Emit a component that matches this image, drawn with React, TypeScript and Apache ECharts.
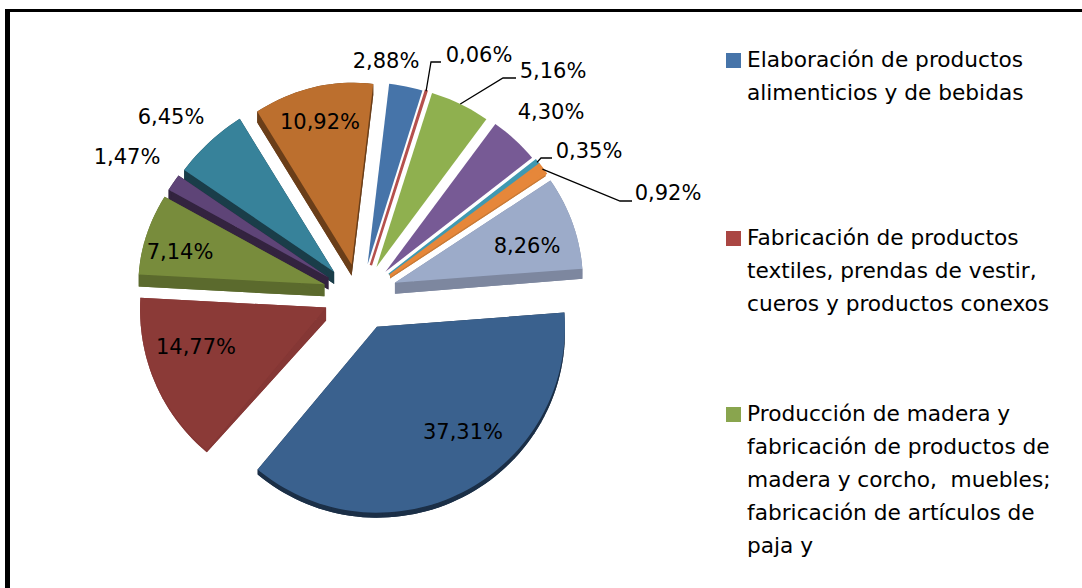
import React, { useEffect, useRef } from "react";
import * as echarts from "echarts";

const categories = [
  "Elaboración de productos\nalimenticios y de bebidas",
  "Fabricación de productos\ntextiles, prendas de vestir,\ncueros y productos conexos",
  "Producción de madera y\nfabricación de productos de\nmadera y corcho,  muebles;\nfabricación de artículos de\npaja y",
  "Sector 4", "Sector 5", "Sector 6", "Sector 7", "Sector 8", "Sector 9", "Sector 10", "Sector 11", "Sector 12", "Sector 13",
];
const values = [2.88, 0.06, 5.16, 4.3, 0.35, 0.92, 8.26, 37.31, 14.77, 7.14, 1.47, 6.45, 10.92];
const labels = ["2,88%", "0,06%", "5,16%", "4,30%", "0,35%", "0,92%", "8,26%", "37,31%", "14,77%", "7,14%", "1,47%", "6,45%", "10,92%"];

const topColors = ["#4674a9", "#b5504d", "#8fb04f", "#775a95", "#4099b1", "#e6873a", "#9cabc9", "#3a618e", "#8b3a37", "#788c3c", "#5e4477", "#37829a", "#bc6f2e"];
const wallColors = ["#2e4d71", "#7b3432", "#5f7634", "#4f3c63", "#2a6676", "#c97a35", "#7d879f", "#1b2f47", "#853735", "#5b6a2d", "#33233f", "#1a3d49", "#6a3e19"];
const rimDepths = [0, 0, 0, 0, 0, 3, 10, 5, 2, 12, 12, 12, 11];
const tipDepths = [0, 0, 0, 0, 0, 3, 11, 0, 13, 12, 12, 12, 11];
const outlineWidths = [0, 2.5, 0, 0, 2.5, 2.5, 0, 0, 0, 0, 0, 0, 0];
const labelCenters: [number, number][] = [[386, 61], [479, 55], [553, 71], [551, 112], [589, 151], [668, 193], [527, 246], [463, 432], [196, 347], [180, 252], [127, 157], [171, 117], [320, 122]];
const leaderElbows: Record<number, [number, number][]> = {
  1: [[431, 62], [441, 62]],
  2: [[503, 78], [516, 78]],
  4: [[541, 158], [552, 158]],
  5: [[620, 201], [632, 201]],
};
const legendTops = [43, 221, 397];
const legendColors = ["#4674a9", "#aa4643", "#89a54e"];

const CX = 360, CY = 292, RX_RIGHT = 188, RX_LEFT = 186, RX_TOPLEFT_CUT = 16, RY_TOP = 182, RY_BOTTOM = 186, EX = 37, EY_TOP = 28, EY_BOTTOM = 39;
const START_DEG = 6.6;
const FONT = "'DejaVu Sans'";
const LABEL_SIZE = 21;
const LEGEND_SIZE = 21.7;
const total = values.reduce((a, b) => a + b, 0);
const cum: number[] = [];
values.reduce((a, v, i) => ((cum[i] = a), a + v), 0);

function rad(d: number) { return (d * Math.PI) / 180; }
function angleOf(share: number) { return rad((share / total) * 360 + START_DEG); }

function sliceGeom(i: number) {
  const a0 = angleOf(cum[i]);
  const a1 = angleOf(cum[i] + values[i]);
  const mid = (a0 + a1) / 2;
  const c = Math.cos(mid);
  const tip: [number, number] = [CX + EX * Math.sin(mid), CY - (c > 0 ? EY_TOP : EY_BOTTOM) * c];
  const rim = (a: number): [number, number] => {
    const ca = Math.cos(a);
    const sa = Math.sin(a);
    const rx = sa >= 0 ? RX_RIGHT : ca > 0 ? RX_LEFT - RX_TOPLEFT_CUT * ca * ca : RX_LEFT;
    return [tip[0] + rx * sa, tip[1] - (ca > 0 ? RY_TOP : RY_BOTTOM) * ca];
  };
  const n = Math.max(2, Math.ceil(((a1 - a0) * 180) / Math.PI / 2));
  const arc: [number, number][] = [];
  for (let k = 0; k <= n; k++) arc.push(rim(a0 + ((a1 - a0) * k) / n));
  return { tip, arc, midRim: rim(mid) };
}

function makeRenderItem(i: number) {
  return () => {
    const g = sliceGeom(i);
    const d1 = rimDepths[i];
    const d0 = tipDepths[i];
    const children: any[] = [];
    const top = [g.tip, ...g.arc];
    if (d1 > 0 || d0 > 0) {
      const fill = { fill: wallColors[i] };
      const tipLow = [g.tip[0], g.tip[1] + d0];
      const low = (p: [number, number]) => [p[0], p[1] + d1];
      children.push({ type: "polygon", shape: { points: [tipLow, ...g.arc.map(low)] }, style: fill });
      [g.arc[0], g.arc[g.arc.length - 1]].forEach((q) => {
        children.push({ type: "polygon", shape: { points: [g.tip, q, low(q), tipLow] }, style: fill });
      });
      for (let k = 0; k + 1 < g.arc.length; k++) {
        const p = g.arc[k], q = g.arc[k + 1];
        children.push({ type: "polygon", shape: { points: [p, q, low(q), low(p)] }, style: fill });
      }
    }
    const w = outlineWidths[i];
    children.push({
      type: "polygon",
      shape: { points: top },
      style: w ? { fill: topColors[i], stroke: topColors[i], lineWidth: w } : { fill: topColors[i] },
    });
    const elbows = leaderElbows[i];
    if (elbows) {
      children.push({
        type: "polyline",
        shape: { points: [g.midRim, ...elbows] },
        style: { stroke: "#000", lineWidth: 1.3, fill: "none" },
      });
    }
    children.push({
      type: "text",
      x: labelCenters[i][0],
      y: labelCenters[i][1],
      style: { text: labels[i], fill: "#000", font: `${LABEL_SIZE}px ${FONT}`, textAlign: "center", textVerticalAlign: "middle" },
    });
    return { type: "group", children };
  };
}

export default function App() {
  const ref = useRef<HTMLDivElement>(null);
  useEffect(() => {
    const chart = echarts.init(ref.current!, undefined, { renderer: "svg" });
    chart.setOption({
      animation: false,
      backgroundColor: "#fff",
      graphic: [
        { type: "rect", shape: { x: 5, y: 9, width: 1100, height: 600 }, style: { fill: "#000" }, z: -2 },
        { type: "rect", shape: { x: 10, y: 12, width: 1100, height: 600 }, style: { fill: "#fff" }, z: -1 },
      ],
      legend: legendTops.map((t, i) => {
        const lines = categories[i].split("\n").length;
        const h = lines * 33;
        return {
          show: true,
          left: 726,
          top: t,
          orient: "vertical",
          data: [{ name: categories[i], icon: `path://M0 0h0M0 10h15v15h-15zM0 ${h}h0` }],
          itemWidth: 15,
          itemHeight: h,
          itemGap: 0,
          padding: 0,
          selectedMode: false,
          textStyle: { fontFamily: "DejaVu Sans", fontSize: LEGEND_SIZE, color: "#000", lineHeight: 33, padding: [0, 0, 0, 1] },
        };
      }),
      series: values.map((v, i) => ({
        type: "custom",
        name: categories[i],
        coordinateSystem: "none",
        data: [v],
        itemStyle: { color: i < 3 ? legendColors[i] : topColors[i] },
        renderItem: makeRenderItem(i),
        silent: true,
        z: values.length - Math.abs(i - 7),
      })),
    });
    return () => chart.dispose();
  }, []);
  return <div ref={ref} style={{ position: "absolute", left: 0, top: 0, width: 1082, height: 588 }} />;
}
